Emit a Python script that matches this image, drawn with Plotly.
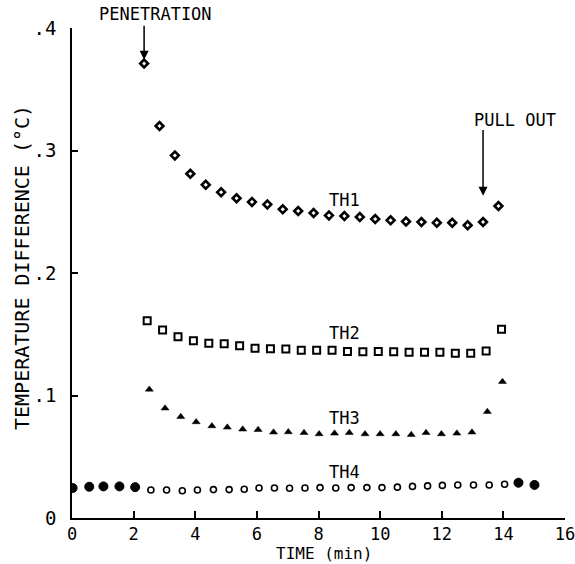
import plotly.graph_objects as go

# ---- data ----
th1_x = [2.34, 2.84, 3.34, 3.84, 4.34, 4.84, 5.34, 5.84, 6.34, 6.84, 7.34, 7.84,
         8.34, 8.84, 9.34, 9.84, 10.34, 10.84, 11.34, 11.84, 12.34, 12.84, 13.34, 13.84]
th1_y = [0.371, 0.320, 0.296, 0.281, 0.272, 0.266, 0.261, 0.258, 0.256, 0.252, 0.2506, 0.249,
         0.247, 0.2465, 0.2457, 0.244, 0.243, 0.242, 0.2416, 0.241, 0.241, 0.239, 0.2416, 0.2547]

th2_x = [2.44, 2.94, 3.44, 3.94, 4.44, 4.94, 5.44, 5.94, 6.44, 6.94, 7.44, 7.94,
         8.44, 8.94, 9.44, 9.94, 10.44, 10.94, 11.44, 11.94, 12.44, 12.94, 13.44, 13.94]
th2_y = [0.161, 0.1535, 0.148, 0.1447, 0.1426, 0.1423, 0.1407, 0.1385, 0.1382, 0.138, 0.137, 0.137,
         0.137, 0.136, 0.1358, 0.136, 0.1358, 0.1353, 0.1353, 0.1353, 0.1345, 0.1345, 0.1363, 0.154]

th3_x = [2.51, 3.02, 3.53, 4.03, 4.54, 5.04, 5.54, 6.04, 6.54, 7.02, 7.53, 8.02,
         8.52, 9.00, 9.51, 10.00, 10.51, 11.01, 11.49, 11.99, 12.49, 12.98, 13.48, 13.97]
th3_y = [0.105, 0.0896, 0.0827, 0.0784, 0.0751, 0.074, 0.0724, 0.0721, 0.070, 0.0702, 0.0696, 0.0686,
         0.0691, 0.0696, 0.0686, 0.0686, 0.0686, 0.068, 0.0696, 0.0686, 0.0691, 0.070, 0.0868, 0.1113]

th4_x = [2.56, 3.07, 3.58, 4.07, 4.59, 5.10, 5.59, 6.07, 6.57, 7.06, 7.56, 8.05, 8.56,
         9.06, 9.57, 10.06, 10.56, 11.05, 11.54, 12.02, 12.52, 13.03, 13.54, 14.04]
th4_y = [0.0229, 0.0229, 0.0222, 0.0229, 0.0232, 0.0232, 0.0235, 0.0245, 0.0245, 0.0243, 0.0245, 0.0248, 0.0245,
         0.0248, 0.0248, 0.0248, 0.0252, 0.0258, 0.0262, 0.0266, 0.027, 0.027, 0.027, 0.0275]

# readings where all four thermistors coincide (before penetration / after pull out)
overlap_x = [0.02, 0.56, 1.02, 1.54, 2.05, 14.49, 15.01]
overlap_y = [0.0245, 0.0255, 0.0258, 0.0258, 0.0252, 0.0288, 0.027]

x_ticks = [0, 2, 4, 6, 8, 10, 12, 14, 16]
y_ticks = [0, 0.1, 0.2, 0.3, 0.4]
y_ticktext = ["0", ".1", ".2", ".3", ".4"]

FONT = "DejaVu Sans Mono"

# plot-area geometry in pixels (used to place free text in paper units)
L, R, T, B, W, H = 72, 10, 28, 46, 575, 564
PW, PH = W - L - R, H - T - B


def px(xp):
    return (xp - L) / PW


def py(yp):
    return (H - B - yp) / PH


fig = go.Figure()
fig.add_trace(go.Scatter(x=th1_x, y=th1_y, mode="markers", name="TH1",
                         marker=dict(symbol="diamond", size=6, color="white",
                                     line=dict(color="black", width=2.6))))
fig.add_trace(go.Scatter(x=th2_x, y=th2_y, mode="markers", name="TH2",
                         marker=dict(symbol="square", size=7, color="white",
                                     line=dict(color="black", width=2))))
fig.add_trace(go.Scatter(x=th3_x, y=th3_y, mode="markers", name="TH3",
                         marker=dict(symbol="triangle-up", size=7, color="black",
                                     line=dict(color="black", width=0.5))))
fig.add_trace(go.Scatter(x=th4_x, y=th4_y, mode="markers", name="TH4",
                         marker=dict(symbol="circle", size=6, color="white",
                                     line=dict(color="black", width=1.6))))
fig.add_trace(go.Scatter(x=overlap_x, y=overlap_y, mode="markers", name="all",
                         marker=dict(symbol="circle", size=9, color="black",
                                     line=dict(color="black", width=1))))

ann = []
tf = dict(family=FONT, size=17, color="black")
ann.append(dict(xref="paper", yref="paper", x=px(155), y=py(14), text="PENETRATION",
                showarrow=False, xanchor="center", yanchor="middle", font=tf))
ann.append(dict(xref="paper", yref="paper", x=px(515), y=py(120), text="PULL OUT",
                showarrow=False, xanchor="center", yanchor="middle", font=tf))
for lbl, yy in [("TH1", 0.2596), ("TH2", 0.151), ("TH3", 0.0816), ("TH4", 0.0376)]:
    ann.append(dict(x=8.85, y=yy, text=lbl, showarrow=False, font=tf))
# arrows
ann.append(dict(x=2.34, y=0.374, ax=2.34, ay=0.403, axref="x", ayref="y", text="",
                showarrow=True, arrowhead=2, arrowsize=1.2, arrowwidth=1.5, arrowcolor="black"))
ann.append(dict(x=13.34, y=0.263, ax=13.34, ay=0.318, axref="x", ayref="y", text="",
                showarrow=True, arrowhead=2, arrowsize=1.2, arrowwidth=1.5, arrowcolor="black"))
# axis titles
ann.append(dict(xref="paper", yref="paper", x=px(324), y=py(553), text="TIME (min)",
                xanchor="center", yanchor="middle",
                showarrow=False, font=dict(family=FONT, size=16, color="black")))
ann.append(dict(xref="paper", yref="paper", x=px(22), y=py(268), text="TEMPERATURE DIFFERENCE (°C)",
                xanchor="center", yanchor="middle",
                textangle=-90, showarrow=False, font=dict(family=FONT, size=20, color="black")))

fig.update_layout(
    width=W, height=H,
    margin=dict(l=L, r=R, t=T, b=B, autoexpand=False),
    paper_bgcolor="white", plot_bgcolor="white",
    showlegend=False,
    annotations=ann,
    font=dict(family=FONT, color="black"),
)
fig.update_xaxes(range=[0, 16], tickvals=x_ticks, ticks="inside", ticklen=7, tickwidth=1.5,
                 tickcolor="black", showline=True, linecolor="black", linewidth=1.5,
                 showgrid=False, zeroline=False, automargin=False,
                 ticklabeloverflow="allow", ticklabelstandoff=0,
                 tickfont=dict(family=FONT, size=17, color="black"))
fig.update_yaxes(range=[0, 0.4], tickvals=y_ticks, ticktext=y_ticktext, ticks="inside", ticklen=6,
                 tickwidth=1.5, tickcolor="black", showline=True, linecolor="black", linewidth=1.5,
                 showgrid=False, zeroline=False, automargin=False, ticklabelstandoff=10,
                 tickfont=dict(family=FONT, size=19, color="black"))

fig.write_html("out.html")
